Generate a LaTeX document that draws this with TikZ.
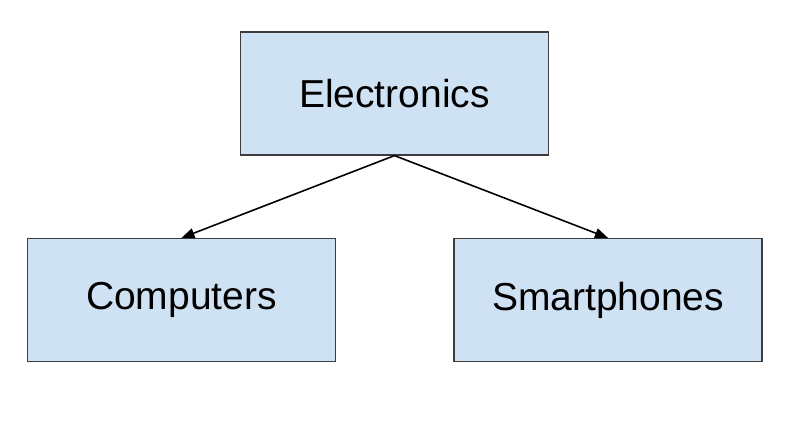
\documentclass[tikz,border=0pt]{standalone}
\usepackage{fontspec}
\setmainfont{Liberation Sans}
\usepackage{tikz}
\usetikzlibrary{arrows.meta,positioning}
\definecolor{boxfill}{HTML}{CFE2F3}
\definecolor{boxline}{HTML}{3C3C3C}
\tikzset{
  category/.style={draw=boxline, fill=boxfill, line width=1.2pt,
    minimum width=308pt, minimum height=123pt, inner sep=0pt,
    font=\fontsize{39}{47}\selectfont},
  link/.style={-{Triangle[length=13pt,width=10pt]}, line width=1.6pt}
}

\begin{document}
\begin{tikzpicture}[x=1pt,y=-1pt]
    \useasboundingbox (0,0) rectangle (809,436);
           \node[category] (elec)  at (394.5,93.5) {Electronics};
           \node[category] (comp)  at (181.5,300)  {Computers};
           \node[category] (phone) at (608,300)    {Smartphones};
            \path[link]
            (elec.south) edge (comp.north)
            (elec.south) edge (phone.north);
    \end{tikzpicture}
\end{document}
